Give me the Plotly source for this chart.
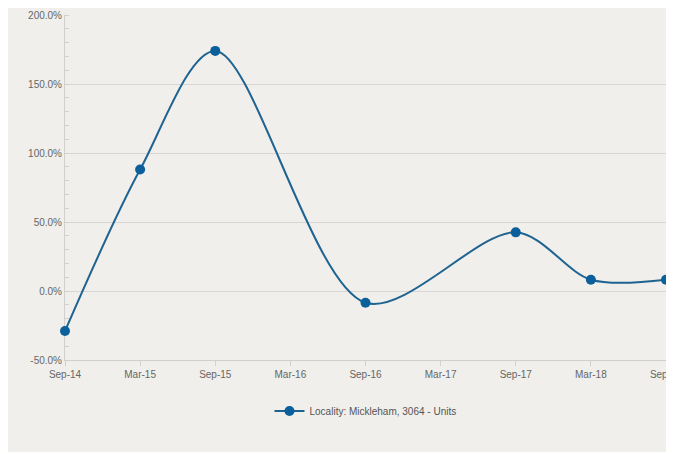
import plotly.graph_objects as go

categories = ["Sep-14", "Mar-15", "Sep-15", "Mar-16", "Sep-16", "Mar-17", "Sep-17", "Mar-18", "Sep-18"]
point_labels = ["Sep-14", "Mar-15", "Sep-15", "Sep-16", "Sep-17", "Mar-18", "Sep-18"]
growth_pct = [-29.0, 88.0, 174.0, -8.5, 42.5, 8.2, 8.2]
series_name = "Locality: Mickleham, 3064 - Units"
y_ticks = [-50, 0, 50, 100, 150, 200]
y_tick_text = ["-50.0%", "0.0%", "50.0%", "100.0%", "150.0%", "200.0%"]

bg = "#f0efeb"
fig = go.Figure()
fig.add_trace(go.Scatter(
    x=point_labels, y=growth_pct, name=series_name,
    mode="lines+markers", cliponaxis=False,
    line=dict(color="#1f6391", width=2, shape="spline", smoothing=0.9),
    marker=dict(color="#0b5f9a", size=10),
))
fig.update_layout(
    width=658, height=444,
    paper_bgcolor=bg, plot_bgcolor=bg,
    margin=dict(l=57, r=0, t=7, b=92),
    font=dict(family="Liberation Sans, Arial, sans-serif", size=10, color="#666"),
    showlegend=True,
    legend=dict(orientation="h", x=0.5, xanchor="center", y=-0.148, yanchor="middle",
                font=dict(size=10, color="#555")),
    xaxis=dict(type="category", categoryorder="array", categoryarray=categories,
               range=[0, 8], showgrid=False, showline=True, linecolor="#d0d0d0",
               ticks="outside", ticklen=5, tickcolor="#d0d0d0", automargin=False,
               tickfont=dict(size=10, color="#666"), zeroline=False, layer="below traces"),
    yaxis=dict(range=[-50, 200], tickvals=y_ticks, ticktext=y_tick_text,
               showgrid=True, gridcolor="#d6d6d6", gridwidth=1, automargin=False,
               showline=True, linecolor="#d0d0d0", zeroline=False, layer="below traces",
               ticks="", tickfont=dict(size=10, color="#666"),
               minor=dict(dtick=10, ticks="inside", ticklen=4, tickcolor="#cfcfcf", showgrid=False)),
)
fig.write_html("out.html")
